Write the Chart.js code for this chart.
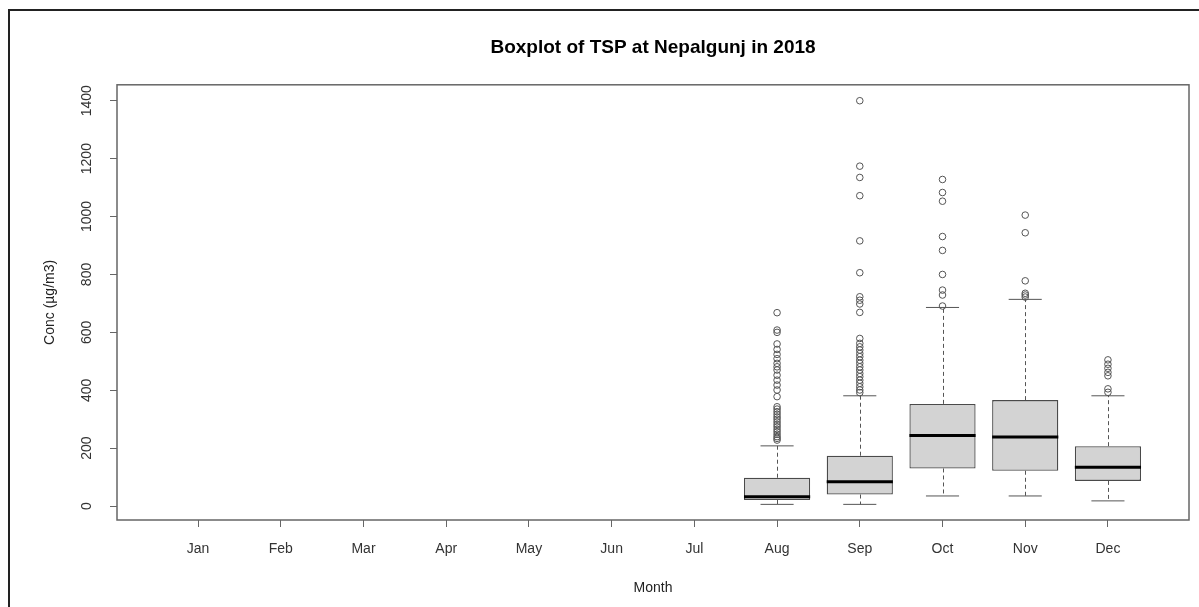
<!DOCTYPE html>
<html>
<head>
<meta charset="utf-8">
<title>Boxplot of TSP at Nepalgunj in 2018</title>
<script src="https://cdn.jsdelivr.net/npm/chart.js@4.4.1/dist/chart.umd.min.js"></script>
<style>
  html, body { margin: 0; padding: 0; background: #fff; }
  #wrap { position: relative; width: 1199px; height: 607px; overflow: hidden; }
  #frame { position: absolute; left: 8px; top: 9px; width: 1200px; height: 700px;
           border-left: 2px solid #222; border-top: 2px solid #222; }
  #chart { position: absolute; left: 0; top: 0; }
</style>
</head>
<body>
<div id="wrap">
  <div id="frame"></div>
  <canvas id="chart" width="1199" height="607"></canvas>
</div>
<script>
// Months on the x axis
const months = ["Jan", "Feb", "Mar", "Apr", "May", "Jun", "Jul", "Aug", "Sep", "Oct", "Nov", "Dec"];

// Box statistics per month (null = no data)
const whiskerLow  = [null, null, null, null, null, null, null, 6, 6, 35, 35, 18];
const q1          = [null, null, null, null, null, null, null, 21, 40, 130, 122, 87];
const median      = [null, null, null, null, null, null, null, 32, 84, 244, 239, 134];
const q3          = [null, null, null, null, null, null, null, 98, 174, 353, 366, 207];
const whiskerHigh = [null, null, null, null, null, null, null, 208, 381, 686, 714, 381];

// Outliers per month
const outAug = [668, 608, 600, 560, 541, 524, 509, 493, 481, 470, 452, 435, 418, 401, 378,
                343, 335, 326, 317, 308, 300, 291, 282, 274, 265, 257, 248, 240, 234, 228];
const outSep = [1400, 1174, 1135, 1072, 916, 806, 723, 711, 698, 669, 579, 562, 550, 539, 527,
                516, 504, 493, 481, 470, 458, 447, 435, 424, 412, 401, 392];
const outOct = [1128, 1083, 1053, 931, 883, 800, 746, 729, 691];
const outNov = [1005, 944, 778, 735, 729, 722];
const outDec = [505, 490, 476, 462, 450, 405, 393];
const outliers = [[], [], [], [], [], [], [], outAug, outSep, outOct, outNov, outDec];

// Axis ticks
const yTicks = [0, 200, 400, 600, 800, 1000, 1200, 1400];

Chart.defaults.font.family = "'Liberation Sans', Arial, sans-serif";
Chart.defaults.font.size = 14;
Chart.defaults.color = "#333";

// Build datasets from the arrays above
const boxData = [];
months.forEach((m, i) => {
  if (q1[i] !== null) boxData.push({ x: i + 1, y: [q1[i], q3[i]] });
});
const outlierData = [];
outliers.forEach((list, i) => {
  list.forEach((v) => outlierData.push({ x: i + 1, y: v }));
});

// Whiskers, staples, medians and plot frame
const boxExtras = {
  id: "boxExtras",
  beforeDatasetsDraw(chart) {
    const { ctx, scales: { x, y } } = chart;
    ctx.save();
    ctx.strokeStyle = "#555";
    ctx.lineWidth = 1;
    const line = (x1, y1, x2, y2) => {
      ctx.beginPath();
      ctx.moveTo(x1, y1);
      ctx.lineTo(x2, y2);
      ctx.stroke();
    };
    months.forEach((m, i) => {
      if (q1[i] === null) return;
      const cx = Math.round(x.getPixelForValue(i + 1)) + 0.5;
      const sl = x.getPixelForValue(i + 1 - 0.2);
      const sr = x.getPixelForValue(i + 1 + 0.2);
      ctx.setLineDash([4, 3]);
      line(cx, y.getPixelForValue(q3[i]), cx, y.getPixelForValue(whiskerHigh[i]));
      line(cx, y.getPixelForValue(q1[i]), cx, y.getPixelForValue(whiskerLow[i]));
      ctx.setLineDash([]);
      line(sl, y.getPixelForValue(whiskerHigh[i]), sr, y.getPixelForValue(whiskerHigh[i]));
      line(sl, y.getPixelForValue(whiskerLow[i]), sr, y.getPixelForValue(whiskerLow[i]));
    });
    ctx.restore();
  },
  afterDatasetDraw(chart, args) {
    if (args.meta.type !== "bar") return;
    const { ctx, scales: { x, y } } = chart;
    ctx.save();
    ctx.strokeStyle = "#000";
    ctx.lineWidth = 3;
    months.forEach((m, i) => {
      if (median[i] === null) return;
      const py = y.getPixelForValue(median[i]);
      ctx.beginPath();
      ctx.moveTo(x.getPixelForValue(i + 1 - 0.4), py);
      ctx.lineTo(x.getPixelForValue(i + 1 + 0.4), py);
      ctx.stroke();
    });
    ctx.restore();
  },
  afterDraw(chart) {
    const { ctx, chartArea: a } = chart;
    ctx.save();
    ctx.strokeStyle = "#666";
    ctx.lineWidth = 1.5;
    ctx.strokeRect(a.left, a.top, a.right - a.left, a.bottom - a.top);
    ctx.restore();
  }
};

new Chart(document.getElementById("chart").getContext("2d"), {
  type: "bar",
  data: {
    datasets: [
      {
        type: "scatter",
        data: outlierData,
        order: 0,
        pointStyle: "circle",
        radius: 3.3,
        borderWidth: 1,
        borderColor: "#555",
        backgroundColor: "rgba(0,0,0,0)"
      },
      {
        type: "bar",
        data: boxData,
        order: 1,
        backgroundColor: "#d3d3d3",
        borderColor: "#4a4a4a",
        borderWidth: 1.3,
        borderSkipped: false,
        categoryPercentage: 1,
        barPercentage: 0.8
      }
    ]
  },
  options: {
    responsive: false,
    animation: false,
    events: [],
    layout: { padding: { left: 0, right: 10, top: 0, bottom: 0 } },
    plugins: {
      legend: { display: false },
      tooltip: { enabled: false },
      title: {
        display: true,
        text: "Boxplot of TSP at Nepalgunj in 2018",
        fullSize: false,
        color: "#000",
        font: { size: 19, weight: "bold", lineHeight: 1.2 },
        padding: { top: 36, bottom: 26 }
      }
    },
    scales: {
      x: {
        type: "linear",
        min: 0.02,
        max: 12.98,
        offset: false,
        afterBuildTicks: (scale) => {
          scale.ticks = months.map((m, i) => ({ value: i + 1 }));
        },
        afterFit: (scale) => { scale.height = 87; },
        ticks: {
          padding: 14,
          maxRotation: 0,
          autoSkip: false,
          callback: (v) => months[v - 1]
        },
        grid: { display: true, offset: false, drawOnChartArea: false, drawTicks: true, tickLength: 7, color: "#666" },
        border: { display: false },
        title: { display: true, text: "Month", color: "#222", font: { size: 14, lineHeight: 1.2 }, padding: { top: 0, bottom: 10.6 } }
      },
      y: {
        type: "linear",
        min: -48,
        max: 1455,
        afterBuildTicks: (scale) => {
          scale.ticks = yTicks.map((v) => ({ value: v }));
        },
        afterFit: (scale) => { scale.width = 117; },
        ticks: {
          minRotation: 90,
          maxRotation: 90,
          crossAlign: "center",
          padding: 7,
          callback: (v) => String(v)
        },
        grid: { display: true, drawOnChartArea: false, drawTicks: true, tickLength: 7, color: "#666" },
        border: { display: false },
        title: { display: true, text: "Conc (µg/m3)", color: "#222", font: { size: 14, lineHeight: 1.2 }, padding: { top: 42, bottom: 0 } }
      }
    }
  },
  plugins: [boxExtras]
});
</script>
</body>
</html>
